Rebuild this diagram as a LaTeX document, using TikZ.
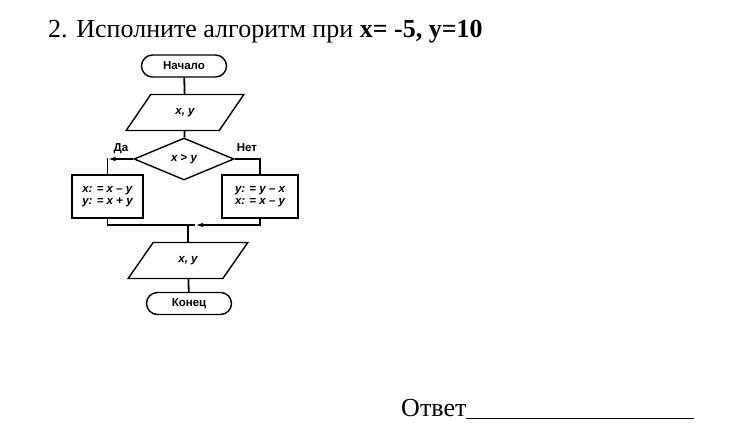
\documentclass[tikz,border=0pt]{standalone}
\usepackage{fontspec}
\setmainfont{Liberation Serif}
\newfontfamily\flowfont{Liberation Sans}
\usetikzlibrary{shapes.geometric,shapes.misc,arrows.meta}
\begin{document}
\begin{tikzpicture}[x=1pt,y=-1pt,
  line width=1.8pt,
  flow/.style={draw,line width=1.4pt,font=\flowfont\fontsize{11.5}{13}\selectfont\bfseries,inner sep=1pt},
  term/.style={flow,rounded rectangle,minimum width=87pt,minimum height=22pt},
  io/.style={flow,trapezium,trapezium left angle=54,trapezium right angle=126,trapezium stretches=true,minimum width=118pt,minimum height=36pt},
  cond/.style={flow,diamond,aspect=2.4,minimum width=100pt,minimum height=42pt,inner sep=0pt},
  proc/.style={flow,rectangle,minimum height=43pt,align=left},
  lbl/.style={font=\flowfont\fontsize{11.5}{13}\selectfont\bfseries},
  arr/.style={-{Latex[length=8pt,width=4.5pt]}}
]
\useasboundingbox (0,0) rectangle (748,424);
\node[anchor=base west,font=\fontsize{26}{30}\selectfont] (title) at (44,37) {2. Исполните алгоритм при \textbf{x= -5, y=10}};
\node[term] (start) at (184,66) {Начало};
\node[io] (in1) at (185,112.5) {\itshape x, y};
\node[cond] (c) at (184,159) {\itshape x {\upshape >} y};
\node[proc,minimum width=71pt] (b1) at (107.5,196.5) {\itshape x: = x {\upshape –} y\\[-1pt]\itshape y: = x {\upshape +} y};
\node[proc,minimum width=76pt] (b2) at (260,196.5) {\itshape y: = y {\upshape –} x\\[-1pt]\itshape x: = x {\upshape –} y};
\node[io,minimum width=120pt] (out) at (188,260.5) {\itshape x, y};
\node[term] (end) at (189,303.5) {Конец};
\coordinate (j) at (188,225);
\coordinate (ja) at (195,225);
\coordinate (dc) at (b1.north |- c.west);
\node[lbl,anchor=base] (da) at (121,151) {Да};
\node[lbl,anchor=base] (net) at (247,151) {Нет};
\draw (start) -- (in1);
\draw (in1) -- (c);
\draw[arr] (c.west) -- (dc);
\draw[line cap=rect] (dc) -- (b1.north);
\draw (c.east) -| (b2.north);
\draw (b1.south) |- (ja);
\draw[arr] (b2.south) |- (ja);
\draw (j) -- (out);
\draw (out) -- (end);
\node[anchor=base west,font=\fontsize{26}{30}\selectfont] (ans) at (397,416) {Ответ\rule[-3pt]{228pt}{1pt}};
\end{tikzpicture}
\end{document}
